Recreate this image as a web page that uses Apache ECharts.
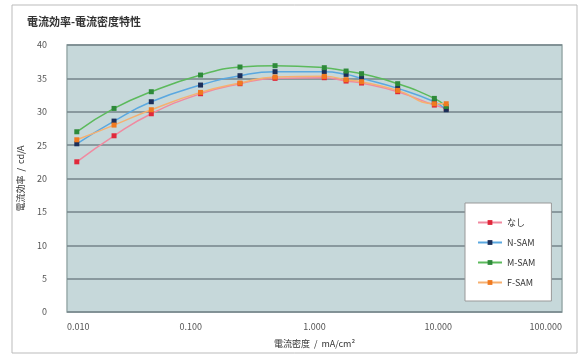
<!DOCTYPE html>
<html>
<head>
<meta charset="utf-8">
<script src="https://cdn.jsdelivr.net/npm/echarts@6/dist/echarts.min.js"></script>
<style>
  html, body { margin: 0; padding: 0; background: #fff; }
  #chart { width: 584px; height: 358px; }
</style>
</head>
<body>
<div id="chart"></div>
<script>
// 電流密度 (mA/cm2)
var currentDensity = [0.012, 0.024, 0.048, 0.12, 0.25, 0.48, 1.2, 1.8, 2.4, 4.7, 9.3, 11.6];
// 電流効率 (cd/A)
var effNone = [22.5, 26.4, 29.7, 32.7, 34.2, 35.0, 35.1, 34.6, 34.3, 33.0, 31.0, 30.5];
var effNSam = [25.2, 28.6, 31.5, 34.0, 35.4, 36.0, 36.0, 35.6, 35.0, 33.5, 31.5, 30.3];
var effMSam = [27.0, 30.5, 33.0, 35.5, 36.7, 36.9, 36.6, 36.1, 35.7, 34.2, 32.0, 30.8];
var effFSam = [25.8, 28.0, 30.3, 32.9, 34.3, 35.2, 35.3, 34.8, 34.5, 33.2, 31.2, 31.2];
var seriesNames = ['なし', 'N-SAM', 'M-SAM', 'F-SAM'];

var font = '"Noto Sans CJK JP", "Noto Sans", sans-serif';

function pairs(ys) {
  return currentDensity.map(function (x, i) { return [x, ys[i]]; });
}

function makeSeries(name, ys, lineColor, markColor) {
  return {
    name: name,
    type: 'line',
    smooth: true,
    symbol: 'rect',
    symbolSize: 5,
    data: pairs(ys),
    lineStyle: { color: lineColor, width: 1.5 },
    itemStyle: { color: markColor }
  };
}

var chart = echarts.init(document.getElementById('chart'));
var option = {
  backgroundColor: '#fff',
  animation: false,
  textStyle: { fontFamily: font },
  title: {
    text: '電流効率-電流密度特性',
    left: 22,
    top: 11,
    textStyle: { fontSize: 11, fontWeight: 'bold', color: '#333', fontFamily: font }
  },
  graphic: [{
    type: 'rect',
    shape: { x: 12, y: 5, width: 565, height: 348 },
    style: { fill: 'none', stroke: '#bbb', lineWidth: 1 },
    silent: true
  }],
  grid: {
    left: 67, top: 45, right: 22, bottom: 46,
    show: true,
    backgroundColor: '#c6d8da',
    borderColor: '#9aa',
    borderWidth: 1.5
  },
  legend: {
    data: seriesNames,
    orient: 'vertical',
    left: 465,
    top: 203,
    padding: [15, 16, 14, 12],
    itemGap: 11,
    itemWidth: 24,
    itemHeight: 6,
    backgroundColor: '#fff',
    borderColor: '#999',
    borderWidth: 1,
    textStyle: { fontSize: 9, color: '#333', fontFamily: font }
  },
  xAxis: {
    type: 'log',
    logBase: 10,
    min: 0.01,
    max: 100,
    name: '電流密度  /  mA/cm²',
    nameLocation: 'middle',
    nameGap: 27,
    nameTextStyle: { fontSize: 9, color: '#333', fontFamily: font },
    axisLine: { show: false },
    axisTick: { show: false },
    splitLine: { show: false },
    minorTick: { show: false },
    axisLabel: {
      fontSize: 9,
      color: '#555',
      margin: 10,
      alignMinLabel: 'left',
      alignMaxLabel: 'right',
      formatter: function (v) { return Number(v).toFixed(3); }
    }
  },
  yAxis: {
    type: 'value',
    min: 0,
    max: 40,
    interval: 5,
    name: '電流効率  /  cd/A',
    nameLocation: 'middle',
    nameRotate: 90,
    nameGap: 42,
    nameTextStyle: { fontSize: 9, color: '#333', fontFamily: font },
    axisLine: { show: false },
    axisTick: { show: false },
    splitLine: { lineStyle: { color: '#74848a', width: 1.5 } },
    axisLabel: { fontSize: 9, color: '#555', margin: 20 }
  },
  series: [
    makeSeries(seriesNames[0], effNone, '#f08aa0', '#e0283a'),
    makeSeries(seriesNames[1], effNSam, '#5aa8e0', '#1c2f5a'),
    makeSeries(seriesNames[2], effMSam, '#5cba5c', '#2e8a3a'),
    makeSeries(seriesNames[3], effFSam, '#f6b070', '#f07a20')
  ]
};
chart.setOption(option);
</script>
</body>
</html>
